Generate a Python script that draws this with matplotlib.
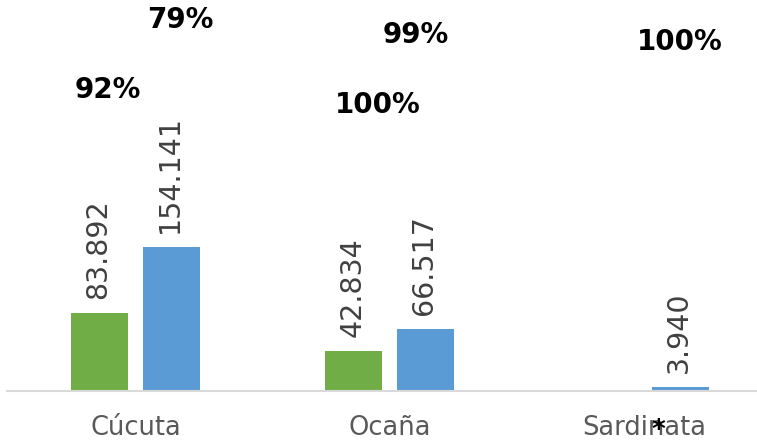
import matplotlib
matplotlib.use("Agg")
import matplotlib.pyplot as plt
import numpy as np

plt.rcParams["font.family"] = ["DejaVu Sans"]

# ---- data ----
categories = ["Cúcuta", "Ocaña", "Sardinata"]
series_green = [83892, 42834, 0]
series_blue = [154141, 66517, 3940]
pct_labels = ["92%", "79%", "100%", "99%", "100%"]   # green Cúcuta, blue Cúcuta, green Ocaña, blue Ocaña, blue Sardinata

# ---- layout (axes-fraction positions of the floating percent labels) ----
pct_pos = [(0.1347, 0.7494), (0.2307, 0.9284), (0.4947, 0.7110), (0.5453, 0.8900), (0.8973, 0.8721)]

GREEN = "#70AD47"
BLUE = "#5B9BD5"

W, H = 757, 443
fig = plt.figure(figsize=(W / 100, H / 100), dpi=100)
ax = fig.add_axes([7 / W, (H - 391) / H, 750 / W, 391 / H])

x = np.arange(len(categories))
bw = 0.2242
off = 0.1416


def fmt(v):
    return f"{v:,}".replace(",", ".")


bars_g = ax.bar(x - off, series_green, width=bw, color=GREEN)
bars_b = ax.bar(x + off, series_blue, width=bw, color=BLUE)

for bars, vals in ((bars_g, series_green), (bars_b, series_blue)):
    for b, v in zip(bars, vals):
        if v <= 0:
            continue
        ax.annotate(fmt(v), xy=(b.get_x() + b.get_width() / 2, v),
                    xytext=(-1, 10), textcoords="offset points",
                    rotation=90, ha="center", va="bottom",
                    fontsize=20.5, color="#404040")

for t, (px, py) in zip(pct_labels, pct_pos):
    ax.text(px, py, t, transform=ax.transAxes, ha="center", va="baseline",
            fontsize=20, fontweight="bold", color="black")

ax.set_xlim(-0.505, 2.444)
ax.set_ylim(0, 391 * 1070)

for s in ("top", "left", "right"):
    ax.spines[s].set_visible(False)
ax.spines["bottom"].set_color("#D9D9D9")
ax.spines["bottom"].set_linewidth(1.5)
ax.set_yticks([])
ax.set_xticks(x)
ax.set_xticklabels(categories, fontsize=18.5, color="#595959")
ax.tick_params(axis="x", length=0, pad=17)

# stray asterisk over "Sardinata"
ax.text((658 - 7) / 750, (391 - 418) / 391, "*", transform=ax.transAxes,
        ha="center", va="top", fontsize=19, fontweight="bold", color="black")

fig.savefig("out.png", dpi=100)
